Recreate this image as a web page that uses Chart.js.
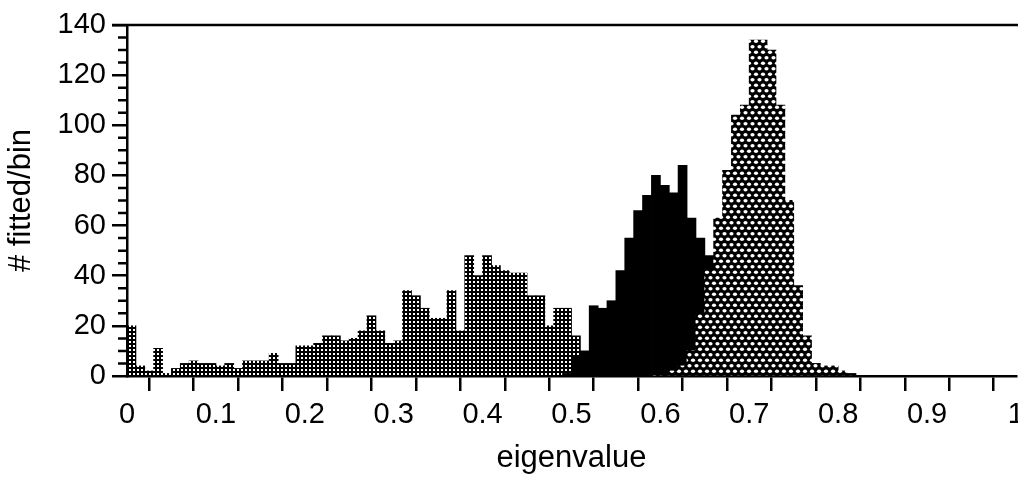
<!DOCTYPE html>
<html lang="en">
<head>
  <meta charset="UTF-8">
  <title>Eigenvalue histogram</title>
  <script src="https://cdn.jsdelivr.net/npm/chart.js"></script>
  <style>
    html, body { margin: 0; padding: 0; background: #fff; overflow: hidden; }
    .wrap { width: 1031px; height: 477px; position: relative; }
  </style>
</head>
<body>
  <div class="wrap"><canvas id="hist"></canvas></div>
  <script>
    // histogram bins are 0.01 wide
    const binWidth = 0.01;
    // low group (square-dot shading), first bin at 0.00
    const gridStart = 0;
    const gridCounts = [20, 4, 2, 11, 1, 3, 5, 6, 5, 5, 4, 5, 3, 6, 6, 6, 9, 5, 5, 12,
      12, 13, 16, 16, 14, 15, 18, 24, 18, 13, 14, 34, 32, 27, 23, 23, 34, 18, 48, 40,
      48, 44, 42, 41, 41, 32, 32, 20, 27, 27, 16];
    // middle group (solid black), first bin at 0.49
    const blackStart = 0.49;
    const blackCounts = [1, 8, 10, 28, 27, 30, 42, 55, 66, 72, 80, 76, 73, 84, 63, 55, 48, 30, 12, 3];
    // high group (round-dot shading), first bin at 0.59
    const dotStart = 0.59;
    const dotCounts = [0, 1, 2, 4, 10, 25, 42, 63, 82, 104, 108, 134, 134, 130, 108, 70, 36, 16, 5, 4, 4, 2, 1];

    const yMinorStep = 5;

    // bin centres, rounded so that the same bin gets the same x in every series
    function toPoints(start, counts) {
      return counts.map((c, i) => ({ x: Math.round((start + (i + 0.5) * binWidth) * 1000) / 1000, y: c }));
    }

    // fill patterns
    function squareDots() {
      const c = document.createElement('canvas');
      c.width = 4; c.height = 4;
      const g = c.getContext('2d');
      g.fillStyle = '#000'; g.fillRect(0, 0, 4, 4);
      g.fillStyle = '#fff'; g.fillRect(1, 1, 2, 2);
      return g.createPattern(c, 'repeat');
    }
    function roundDots() {
      const c = document.createElement('canvas');
      c.width = 7; c.height = 11;
      const g = c.getContext('2d');
      g.fillStyle = '#000'; g.fillRect(0, 0, 7, 11);
      g.fillStyle = '#fff';
      [[3.5, 2.75], [0, 8.25], [7, 8.25]].forEach(([cx, cy]) => {
        g.beginPath(); g.ellipse(cx, cy, 2.1, 1.8, 0, 0, Math.PI * 2); g.fill();
      });
      return g.createPattern(c, 'repeat');
    }

    const frame = {
      id: 'frame',
      afterDraw(chart) {
        const { ctx, chartArea: a, scales: { y } } = chart;
        ctx.save();
        ctx.strokeStyle = '#000';
        ctx.lineWidth = 2.5;
        ctx.beginPath();
        ctx.moveTo(a.left - 15, a.top);
        ctx.lineTo(chart.width, a.top);
        for (let v = yMinorStep; v < y.max; v += yMinorStep) {
          if (v % 20 === 0) continue;
          const py = y.getPixelForValue(v);
          ctx.moveTo(a.left - 9, py);
          ctx.lineTo(a.left, py);
        }
        ctx.stroke();
        ctx.restore();
      }
    };

    const family = "'Liberation Sans', Arial, Helvetica, sans-serif";
    const tickFont = { family, size: 29 };
    const titleFont = { family, size: 31 };

    new Chart(document.getElementById('hist'), {
      type: 'bar',
      data: {
        datasets: [
          { label: 'high', data: toPoints(dotStart, dotCounts), backgroundColor: roundDots(), order: 0 },
          { label: 'middle', data: toPoints(blackStart, blackCounts), backgroundColor: '#000', order: 1 },
          { label: 'low', data: toPoints(gridStart, gridCounts), backgroundColor: squareDots(), order: 2 }
        ]
      },
      options: {
        animation: false,
        responsive: true,
        maintainAspectRatio: false,
        layout: { padding: { top: 25, left: 0, right: 0, bottom: 0 } },
        datasets: {
          bar: { grouped: false, barPercentage: 1, categoryPercentage: 1, borderWidth: 0, inflateAmount: 0.4 }
        },
        plugins: { legend: { display: false }, tooltip: { enabled: false } },
        scales: {
          x: {
            type: 'linear',
            min: 0, max: 1,
            offset: false,
            afterFit: s => { s.height = 101; },
            ticks: {
              stepSize: 0.05,
              color: '#000',
              font: tickFont,
              padding: 7,
              maxRotation: 0,
              autoSkip: false,
              callback: v => {
                const t = Math.round(v * 100);
                if (t % 10 !== 0) return '';
                return t === 0 ? '0' : t === 100 ? '1' : (t / 100).toFixed(1);
              }
            },
            grid: { drawOnChartArea: false, drawTicks: true, tickLength: 15, color: '#000', lineWidth: 2.5 },
            border: { display: true, color: '#000', width: 2.5 },
            title: { display: true, text: 'eigenvalue', color: '#000', font: titleFont, padding: { top: 0, bottom: 0 } }
          },
          y: {
            min: 0, max: 140,
            afterFit: s => { s.width = 127; },
            ticks: { stepSize: 20, color: '#000', font: tickFont, padding: 6 },
            grid: { drawOnChartArea: false, drawTicks: true, tickLength: 15, color: '#000', lineWidth: 2.5 },
            border: { display: true, color: '#000', width: 2.5 },
            title: { display: true, text: '# fitted/bin', color: '#000', font: titleFont, padding: { top: 3, bottom: 0 } }
          }
        }
      },
      plugins: [frame]
    });
  </script>
</body>
</html>
